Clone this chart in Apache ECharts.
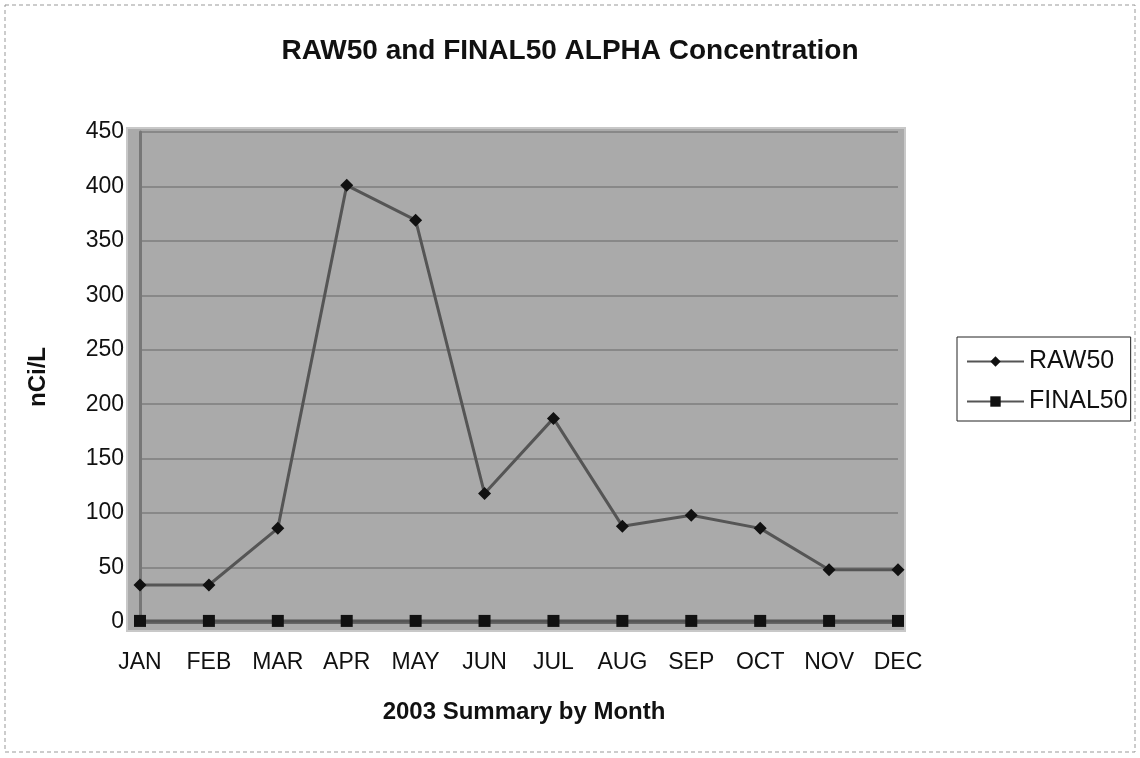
<!DOCTYPE html>
<html>
<head>
<meta charset="utf-8">
<script src="https://cdn.jsdelivr.net/npm/echarts@6/dist/echarts.min.js"></script>
<style>
  html, body { margin: 0; padding: 0; background: #ffffff; }
  #chart { width: 1140px; height: 758px; }
</style>
</head>
<body>
<div id="chart"></div>
<script>
// Monthly alpha concentration, 2003 (nCi/L)
const months = ['JAN', 'FEB', 'MAR', 'APR', 'MAY', 'JUN', 'JUL', 'AUG', 'SEP', 'OCT', 'NOV', 'DEC'];
const raw50 = [34, 34, 86, 401, 369, 118, 187, 88, 98, 86, 48, 48];
const final50 = [1, 1, 1, 1, 1, 1, 1, 1, 1, 1, 1, 1];
const yTicks = { min: 0, max: 450, interval: 50 };

const font = 'Arial, "Liberation Sans", Helvetica, sans-serif';
const chart = echarts.init(document.getElementById('chart'));

chart.setOption({
  backgroundColor: '#ffffff',
  animation: false,
  title: {
    text: 'RAW50 and FINAL50 ALPHA Concentration',
    left: 565,
    textAlign: 'center',
    top: 32,
    textStyle: { fontFamily: font, fontSize: 28, fontWeight: 'bold', color: '#111' }
  },
  graphic: [
    {
      type: 'rect', z: -10, silent: true,
      shape: { x: 5, y: 5, width: 1130, height: 747 },
      style: { fill: 'none', stroke: '#999', lineWidth: 1, lineDash: [4, 3] }
    },
    {
      type: 'rect', z: -5, silent: true,
      shape: { x: 127, y: 128, width: 778, height: 503 },
      style: { fill: '#aaaaaa', stroke: '#c8c8c8', lineWidth: 2 }
    }
  ],
  legend: {
    orient: 'vertical',
    left: 957,
    top: 337,
    itemWidth: 57,
    itemHeight: 13,
    itemGap: 15,
    padding: [12, 3, 7, 9],
    borderColor: '#222',
    borderWidth: 1,
    backgroundColor: '#fff',
    textStyle: { fontFamily: font, fontSize: 25, color: '#111' },
    data: ['RAW50', 'FINAL50']
  },
  grid: { left: 140, right: 242, top: 132, bottom: 136, containLabel: false },
  xAxis: {
    type: 'category',
    data: months,
    boundaryGap: false,
    name: '2003 Summary by Month',
    nameLocation: 'middle',
    nameGap: 78,
    nameTextStyle: { fontFamily: font, fontSize: 24, fontWeight: 'bold', color: '#111', padding: [0, 0, 0, 10] },
    axisLine: { show: true, lineStyle: { color: '#666', width: 3 } },
    axisTick: { show: false },
    axisLabel: { interval: 0, fontFamily: font, fontSize: 23, color: '#111', margin: 29 },
    splitLine: { show: false }
  },
  yAxis: {
    type: 'value',
    min: yTicks.min,
    max: yTicks.max,
    interval: yTicks.interval,
    name: 'nCi/L',
    nameLocation: 'middle',
    nameGap: 90,
    nameRotate: 90,
    nameTextStyle: { fontFamily: font, fontSize: 24, fontWeight: 'bold', color: '#111' },
    axisLine: { show: true, lineStyle: { color: '#777', width: 3 } },
    axisTick: { show: false },
    axisLabel: { fontFamily: font, fontSize: 23, color: '#111', margin: 16 },
    splitLine: { show: true, lineStyle: { color: '#888', width: 2 } }
  },
  series: [
    {
      name: 'RAW50',
      type: 'line',
      data: raw50,
      symbol: 'diamond',
      symbolSize: 13,
      itemStyle: { color: '#111' },
      lineStyle: { color: '#555', width: 3 },
      z: 3
    },
    {
      name: 'FINAL50',
      type: 'line',
      data: final50,
      symbol: 'rect',
      symbolSize: 12,
      itemStyle: { color: '#111' },
      lineStyle: { color: '#555', width: 3 },
      z: 4
    }
  ]
});
</script>
</body>
</html>
